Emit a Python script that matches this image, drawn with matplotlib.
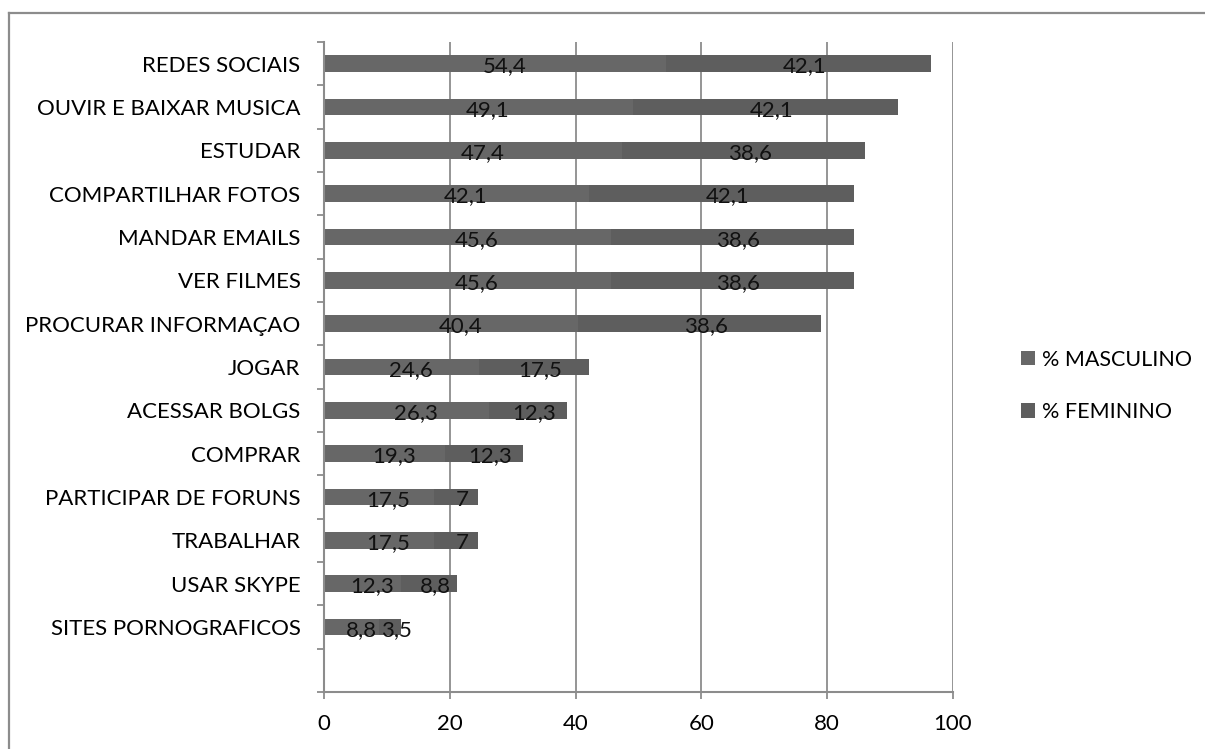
import matplotlib
matplotlib.use("Agg")
import matplotlib.pyplot as plt
from matplotlib.lines import Line2D
from matplotlib.patches import Patch
import numpy as np

categories = ["REDES SOCIAIS", "OUVIR E BAIXAR MUSICA", "ESTUDAR", "COMPARTILHAR FOTOS",
              "MANDAR EMAILS", "VER FILMES", "PROCURAR INFORMAÇAO", "JOGAR", "ACESSAR BOLGS",
              "COMPRAR", "PARTICIPAR DE FORUNS", "TRABALHAR", "USAR SKYPE", "SITES PORNOGRAFICOS", ""]
masculino = [54.4, 49.1, 47.4, 42.1, 45.6, 45.6, 40.4, 24.6, 26.3, 19.3, 17.5, 17.5, 12.3, 8.8, None]
feminino = [42.1, 42.1, 38.6, 42.1, 38.6, 38.6, 38.6, 17.5, 12.3, 12.3, 7, 7, 8.8, 3.5, None]
series_names = ["% MASCULINO", "% FEMININO"]
x_ticks = [0, 20, 40, 60, 80, 100]

plt.rcParams['font.family'] = ['Lato', 'DejaVu Sans']
W, H = 1205, 749
fig = plt.figure(figsize=(W / 100, H / 100), dpi=100)
ax = fig.add_axes([324 / W, 1 - 692 / H, (953 - 324) / W, (692 - 42) / H])

c_m = "#676767"
c_f = "#5e5e5e"
gray = "#8c8c8c"
FS = 16

n = len(categories)
y = np.arange(n)
mv = np.array([v if v is not None else 0 for v in masculino])
fv = np.array([v if v is not None else 0 for v in feminino])
bh = 0.39
ax.barh(y, mv, height=bh, color=c_m, zorder=3)
ax.barh(y, fv, left=mv, height=bh, color=c_f, zorder=3)

def fmt(v):
    return f"{v:g}".replace(".", ",")

for i in range(n):
    if masculino[i] is None:
        continue
    ax.text(mv[i] / 2 + 1.5, y[i] + 0.06, fmt(masculino[i]), ha="center", va="center",
            fontsize=FS, color="#111111", zorder=4)
    ax.text(mv[i] + fv[i] / 2 + 1.0, y[i] + 0.06, fmt(feminino[i]), ha="center", va="center",
            fontsize=FS, color="#111111", zorder=4)

ax.set_xlim(0, 100)
ax.set_ylim(n - 0.5, -0.5)
ax.set_xticks(x_ticks)
ax.set_xticklabels([str(t) for t in x_ticks], fontsize=FS)
ax.set_yticks(y)
ax.set_yticklabels(categories, fontsize=FS)
ax.set_yticks(np.arange(-0.5, n, 1.0), minor=True)
ax.tick_params(axis="y", which="major", length=0, pad=17)
ax.tick_params(axis="y", which="minor", length=5, width=1.3, color=gray, direction="out")
ax.tick_params(axis="x", which="major", length=5, width=1.3, color=gray, direction="out", pad=11)

ax.grid(axis="x", color=gray, linewidth=1.3, zorder=0)
for s in ["top", "right"]:
    ax.spines[s].set_visible(False)
for s in ["left", "bottom"]:
    ax.spines[s].set_color(gray)
    ax.spines[s].set_linewidth(1.5)
    ax.spines[s].set_zorder(5)

handles = [Patch(facecolor=c_m, edgecolor="none"), Patch(facecolor=c_f, edgecolor="none")]
fig.legend(handles, series_names, loc="center left", bbox_to_anchor=(1002 / W, 1 - 386 / H),
           frameon=False, fontsize=15.5, handlelength=0.65, handleheight=0.65, handletextpad=0.3,
           labelspacing=1.5)

# outer chart border
fig.add_artist(Line2D([8.5 / W, 1.0], [1 - 12.5 / H, 1 - 12.5 / H], color=gray, linewidth=1.6,
                      transform=fig.transFigure))
fig.add_artist(Line2D([8.5 / W, 8.5 / W], [0, 1 - 12.5 / H], color=gray, linewidth=1.6,
                      transform=fig.transFigure))

fig.savefig("out.png", dpi=100, facecolor="white")
